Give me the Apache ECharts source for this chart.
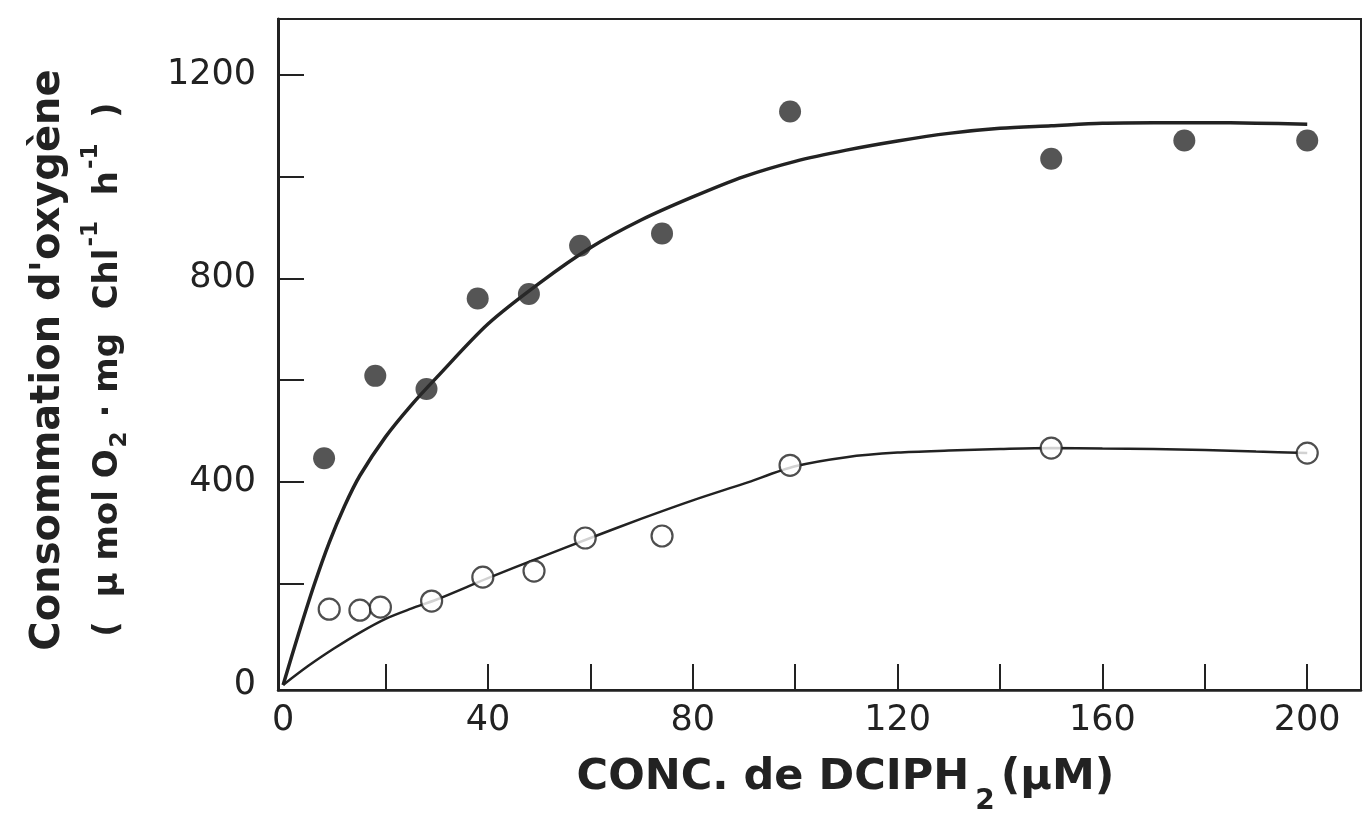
<!DOCTYPE html>
<html>
<head>
<meta charset="utf-8">
<script src="https://cdn.jsdelivr.net/npm/echarts@6/dist/echarts.min.js"></script>
<style>
html,body{margin:0;padding:0;background:#fff;}
#chart{width:1367px;height:819px;}
</style>
</head>
<body>
<div id="chart"></div>
<script>
// ---- data ----
const filledX = [8, 18, 28, 38, 48, 58, 74, 99, 150, 176, 200];
const filledY = [446, 608, 582, 760, 769, 864, 888, 1128, 1035, 1071, 1071];

const openX = [9, 15, 19, 29, 39, 49, 59, 74, 99, 150, 200];
const openY = [149, 147, 153, 165, 212, 224, 289, 293, 432, 466, 456];

// fitted curves as drawn in the figure
const upperCurveX = [0, 3, 6, 9, 12, 15, 20, 25, 30, 40, 50, 60, 70, 80, 90, 100, 110, 120, 130, 140, 150, 160, 170, 180, 190, 200];
const upperCurveY = [0, 100, 195, 280, 352, 412, 488, 550, 605, 710, 790, 860, 915, 960, 1000, 1030, 1052, 1070, 1085, 1095, 1100, 1105, 1106, 1106, 1105, 1103];

const lowerCurveX = [0, 5, 10, 15, 20, 25, 30, 40, 50, 60, 70, 80, 90, 100, 110, 120, 130, 140, 150, 160, 170, 180, 190, 200];
const lowerCurveY = [0, 38, 72, 103, 130, 150, 168, 210, 250, 289, 327, 363, 396, 430, 448, 457, 461, 464, 466, 465, 464, 462, 459, 456];

const xTickValues = [20, 40, 60, 80, 100, 120, 140, 160, 180, 200];
const xLabelValues = [0, 40, 80, 120, 160, 200];
const yTickValues = [200, 400, 600, 800, 1000, 1200];
const yLabelValues = [0, 400, 800, 1200];

const xTitle = 'CONC. de DCIPH';
const yTitle1 = "Consommation d'oxygène";

const pairs = (xs, ys) => xs.map((x, i) => [x, ys[i]]);
const ink = '#222';

const chart = echarts.init(document.getElementById('chart'), null, {renderer: 'canvas'});
chart.setOption({
  animation: false,
  backgroundColor: '#fff',
  textStyle: {fontFamily: 'DejaVu Sans', color: ink},
  grid: {
    left: 278, right: 6, top: 19, bottom: 129,
    outerBoundsMode: 'none', containLabel: false,
    show: true, borderColor: ink, borderWidth: 2, backgroundColor: 'transparent'
  },
  xAxis: {
    type: 'value', min: -1, max: 210.5,
    axisLine: {onZero: false, lineStyle: {color: ink, width: 2.5}},
    axisTick: {show: true, inside: true, length: 26, customValues: xTickValues, lineStyle: {color: ink, width: 2}},
    axisLabel: {customValues: xLabelValues, fontSize: 35, color: ink, margin: 13, fontFamily: 'DejaVu Sans',
      formatter: v => String(v)},
    splitLine: {show: false},
    name: '{t|' + xTitle + '}{s|2}{t|(µM)}',
    nameLocation: 'middle',
    nameGap: 66,
    nameTextStyle: {
      padding: [0, 0, 0, 52],
      rich: {
        t: {fontSize: 43, fontWeight: 'bold', fontFamily: 'DejaVu Sans', color: ink, lineHeight: 50, verticalAlign: 'top'},
        s: {fontSize: 28, fontWeight: 'bold', fontFamily: 'DejaVu Sans', color: ink, lineHeight: 30, padding: [32, 6, 0, 6], verticalAlign: 'top'}
      }
    }
  },
  yAxis: {
    type: 'value', min: -10, max: 1310,
    axisLine: {onZero: false, lineStyle: {color: ink, width: 3}},
    axisTick: {show: true, inside: true, length: 26, customValues: yTickValues, lineStyle: {color: ink, width: 2}},
    axisLabel: {customValues: yLabelValues, fontSize: 35, color: ink, margin: 22, fontFamily: 'DejaVu Sans',
      formatter: v => String(v)},
    splitLine: {show: false},
    name: '{a|' + yTitle1 + '}\n{b|(  µ mol O}{sub|2}{b| · mg  Chl}{sup|-1}{b|  h}{sup|-1}{e|  )}',
    nameLocation: 'middle',
    nameRotate: 90,
    nameGap: 162,
    nameTextStyle: {
      rich: {
        a: {fontSize: 40, fontWeight: 'bold', fontFamily: 'DejaVu Sans', color: ink, lineHeight: 50, padding: [0, 11, 8, 0]},
        b: {fontSize: 34, fontWeight: 'bold', fontFamily: 'DejaVu Sans', color: ink, lineHeight: 38, padding: [13, 0, 0, 0], verticalAlign: 'top'},
        e: {fontSize: 34, fontWeight: 'bold', fontFamily: 'DejaVu Sans', color: ink, lineHeight: 38, padding: [13, 30, 0, 0], verticalAlign: 'top'},
        sub: {fontSize: 23, fontWeight: 'bold', fontFamily: 'DejaVu Sans', color: ink, lineHeight: 23, padding: [31, 2, 0, 2], verticalAlign: 'top'},
        sup: {fontSize: 23, fontWeight: 'bold', fontFamily: 'DejaVu Sans', color: ink, lineHeight: 23, padding: [2, 2, 0, 2], verticalAlign: 'top'}
      }
    }
  },
  series: [
    {
      type: 'line', data: pairs(upperCurveX, upperCurveY), smooth: 0.3,
      showSymbol: false, symbol: 'none',
      lineStyle: {color: ink, width: 3.5}, z: 2
    },
    {
      type: 'line', data: pairs(lowerCurveX, lowerCurveY), smooth: 0.3,
      showSymbol: false, symbol: 'none',
      lineStyle: {color: ink, width: 2.5}, z: 2
    },
    {
      type: 'scatter', data: pairs(filledX, filledY), symbol: 'circle', symbolSize: 22,
      itemStyle: {color: '#2a2a2a'}, z: 3
    },
    {
      type: 'scatter', data: pairs(openX, openY), symbol: 'circle', symbolSize: 21,
      itemStyle: {color: '#fff', borderColor: ink, borderWidth: 2.2}, z: 4
    }
  ]
});
</script>
</body>
</html>
